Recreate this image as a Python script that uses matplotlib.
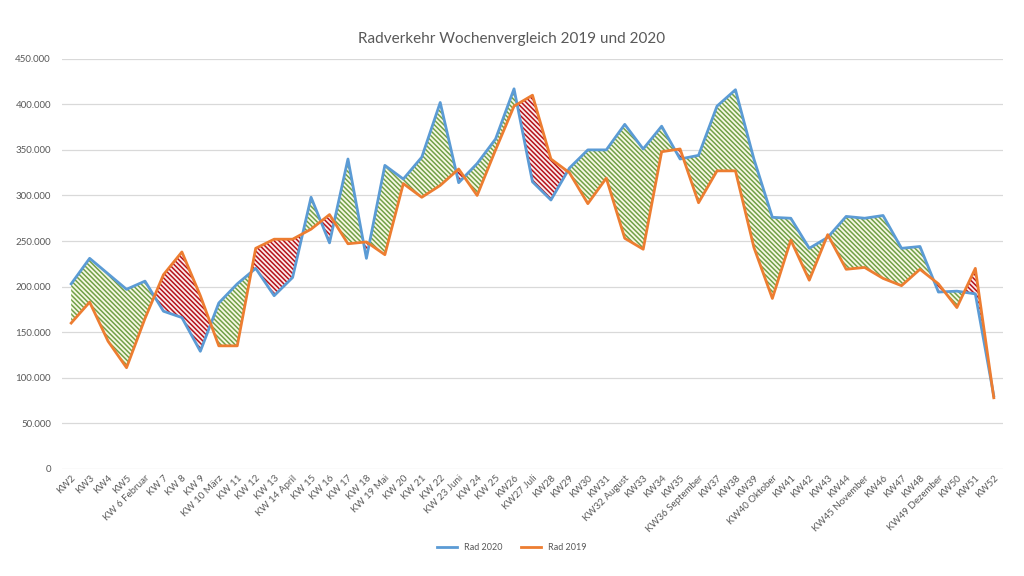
import numpy as np
import matplotlib.pyplot as plt
from matplotlib.ticker import FuncFormatter

plt.rcParams['font.family'] = ['Lato', 'DejaVu Sans']
plt.rcParams['hatch.linewidth'] = 1.1

wochen = ["KW2", "KW3", "KW4", "KW5", "KW 6 Februar", "KW 7", "KW 8", "KW 9",
          "KW 10 März", "KW 11", "KW 12", "KW 13", "KW 14 April", "KW 15", "KW 16",
          "KW 17", "KW 18", "KW 19 Mai", "KW 20", "KW 21", "KW 22", "KW 23 Juni",
          "KW 24", "KW 25", "KW26", "KW27 Juli", "KW28", "KW29", "KW30", "KW31",
          "KW32 August", "KW33", "KW34", "KW35", "KW36 September", "KW37", "KW38",
          "KW39", "KW40 Oktober", "KW41", "KW42", "KW43", "KW44", "KW45 November",
          "KW46", "KW47", "KW48", "KW49 Dezember", "KW50", "KW51", "KW52"]

rad2020 = [203000, 231000, 214000, 197000, 206000, 173000, 166000, 129000,
           182000, 203000, 220000, 190000, 210000, 298000, 248000, 340000,
           231000, 333000, 318000, 342000, 402000, 314000, 335000, 362000,
           417000, 315000, 295000, 330000, 350000, 350000, 378000, 351000,
           376000, 340000, 344000, 398000, 416000, 340000, 276000, 275000,
           242000, 254000, 277000, 275000, 278000, 242000, 244000, 194000,
           195000, 192000, 80000]

rad2019 = [160000, 183000, 140000, 111000, 165000, 213000, 238000, 190000,
           135000, 135000, 242000, 252000, 252000, 263000, 279000, 247000,
           249000, 235000, 313000, 298000, 311000, 329000, 300000, 350000,
           398000, 410000, 340000, 325000, 291000, 319000, 253000, 241000,
           348000, 351000, 292000, 327000, 327000, 243000, 187000, 251000,
           207000, 257000, 219000, 221000, 209000, 201000, 219000, 203000,
           177000, 220000, 78000]

x = np.arange(len(wochen))
a = np.array(rad2020)
b = np.array(rad2019)

fig = plt.figure(figsize=(10.24, 5.76), dpi=100)
ax = fig.add_axes([0.0605, 0.186, 0.919, 0.712])

# schraffierte Flächen zwischen den Kurven
schraffur = '\\' * 7
ax.fill_between(x, a, b, where=a >= b, interpolate=True, facecolor='#f8f9e4',
                edgecolor='#71a047', hatch=schraffur, linewidth=0, zorder=1)
ax.fill_between(x, a, b, where=a < b, interpolate=True, facecolor='#fcecec',
                edgecolor='#b5121b', hatch=schraffur, linewidth=0, zorder=1)

ax.plot(x, a, color='#5b9bd5', lw=2.0, label='Rad 2020', zorder=3)
ax.plot(x, b, color='#ed7d31', lw=2.0, label='Rad 2019', zorder=3)

ax.set_xlim(-0.5, len(wochen) - 0.5)
ax.set_ylim(0, 450000)
ax.set_yticks(np.arange(0, 450001, 50000))
ax.yaxis.set_major_formatter(FuncFormatter(lambda v, p: f"{int(v):,}".replace(",", ".")))
ax.grid(axis='y', color='#d9d9d9', lw=0.9)
ax.set_axisbelow(True)
for s in ax.spines.values():
    s.set_visible(False)
ax.tick_params(axis='both', length=0, colors='#595959', labelsize=7)
ax.tick_params(axis='y', pad=8)

ax.set_xticks(x)
ax.set_xticklabels(wochen, rotation=45, ha='right', rotation_mode='anchor')

fig.text(0.5, 0.933, "Radverkehr Wochenvergleich 2019 und 2020", ha='center',
         va='center', fontsize=11, color='#595959')

fig.legend(*ax.get_legend_handles_labels(), loc='center', bbox_to_anchor=(0.5, 0.049),
           ncol=2, frameon=False, fontsize=6.5, labelcolor='#595959',
           handlelength=2.2, columnspacing=2)

fig.savefig("out.png", dpi=100)
